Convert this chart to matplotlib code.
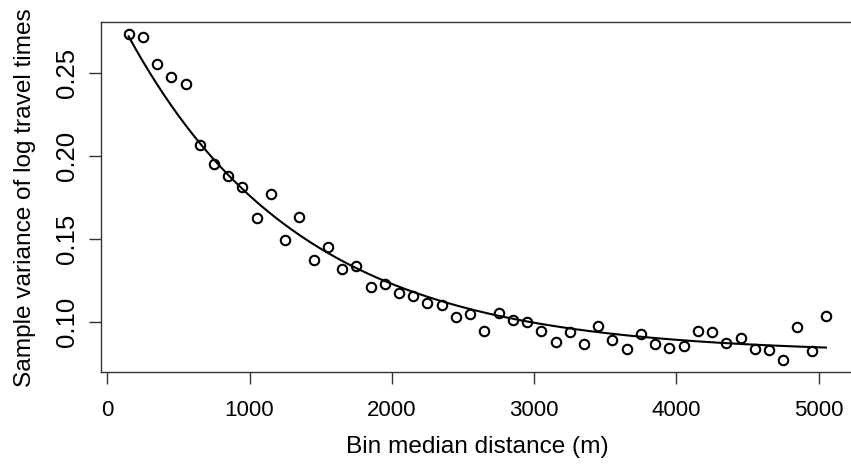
import numpy as np
import matplotlib
matplotlib.use("Agg")
import matplotlib.pyplot as plt

plt.rcParams["font.family"] = ["Liberation Sans", "DejaVu Sans"]

# Bin median distances (m) and sample variance of log travel times
distance = [150, 250, 350, 450, 550, 650, 750, 850, 950, 1050,
            1150, 1250, 1350, 1450, 1550, 1650, 1750, 1850, 1950, 2050,
            2150, 2250, 2350, 2450, 2550, 2650, 2750, 2850, 2950, 3050,
            3150, 3250, 3350, 3450, 3550, 3650, 3750, 3850, 3950, 4050,
            4150, 4250, 4350, 4450, 4550, 4650, 4750, 4850, 4950, 5050]
variance = [0.2731, 0.2715, 0.2552, 0.2476, 0.2434, 0.2063, 0.1950, 0.1880, 0.1811, 0.1625,
            0.1767, 0.1492, 0.1630, 0.1370, 0.1448, 0.1318, 0.1334, 0.1209, 0.1227, 0.1175,
            0.1155, 0.1115, 0.1099, 0.1030, 0.1046, 0.0946, 0.1052, 0.1012, 0.0998, 0.0944,
            0.0878, 0.0940, 0.0866, 0.0976, 0.0890, 0.0833, 0.0926, 0.0866, 0.0843, 0.0855,
            0.0942, 0.0936, 0.0873, 0.0900, 0.0837, 0.0828, 0.0771, 0.0966, 0.0825, 0.1034]

# Fitted exponential model: c + a * exp(-d / r)
fit_c = 0.081
fit_a = 0.216
fit_r = 1217.0

x_ticks = [0, 1000, 2000, 3000, 4000, 5000]
y_ticks = [0.10, 0.15, 0.20, 0.25]
y_tick_labels = ["0.10", "0.15", "0.20", "0.25"]

fig = plt.figure(figsize=(8.51, 4.66), dpi=100)
W, H = 851, 466
ax = fig.add_axes([100.7 / W, 93.7 / H, (853.8 - 100.7) / W, 350 / H])

ax.plot(distance, variance, linestyle="none", marker="o", markersize=6.8,
        markerfacecolor="none", markeredgecolor="black", markeredgewidth=1.5)

d = np.linspace(distance[0], distance[-1], 300)
ax.plot(d, fit_c + fit_a * np.exp(-d / fit_r), color="black", linewidth=1.5)

ax.set_xlim(-46, 5246)
ax.set_ylim(0.0695, 0.2804)
ax.set_xticks(x_ticks)
ax.set_xticklabels([str(t) for t in x_ticks], fontsize=16)
ax.set_yticks(y_ticks)
ax.set_yticklabels(y_tick_labels, rotation=90, va="center", fontsize=18.5)

ax.tick_params(axis="both", direction="out", length=8.6, width=1.0,
               color="#333333")
ax.tick_params(axis="x", pad=11)
ax.tick_params(axis="y", pad=7)
for s in ax.spines.values():
    s.set_linewidth(1.0)
    s.set_color("#333333")

ax.set_xlabel("Bin median distance (m)", fontsize=17.6, labelpad=11.5)
ax.set_ylabel("Sample variance of log travel times", fontsize=17.6, labelpad=14)

fig.savefig("out.png", dpi=100)
